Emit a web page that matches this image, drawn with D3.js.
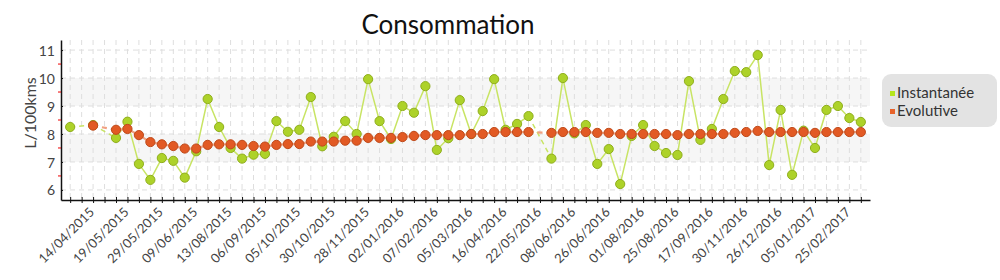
<!DOCTYPE html>
<html>
<head>
<meta charset="utf-8">
<script src="https://cdn.jsdelivr.net/npm/d3@7"></script>
<style>
  body { margin: 0; background: #fff; }
  svg text { font-family: Lato, "Open Sans", sans-serif; }
</style>
</head>
<body>
<div id="chart"></div>
<script>
// values, one per category (null = no reading)
const instantanee = [8.25, null, 8.32, null, 7.86, 8.44, 6.93, 6.36, 7.14, 7.04,
    6.44, 7.38, 9.25, 8.25, 7.5, 7.12, 7.26, 7.29, 8.46, 8.08,
    8.15, 9.32, 7.56, 7.9, 8.46, 8.0, 9.96, 8.46, 7.82, 9.0,
    8.76, 9.71, 7.43, 7.85, 9.21, 8.0, 8.82, 9.96, 8.15, 8.36,
    8.64, null, 7.12, 10.0, 8.02, 8.32, 6.93, 7.46, 6.21, 7.93,
    8.32, 7.57, 7.32, 7.25, 9.89, 7.79, 8.18, 9.25, 10.25, 10.21,
    10.82, 6.89, 8.86, 6.54, 8.12, 7.5, 8.86, 9.0, 8.57, 8.43];

const evolutive = [null, null, 8.30, null, 8.15, 8.18, 7.96, 7.71, 7.63, 7.57,
    7.48, 7.48, 7.61, 7.63, 7.63, 7.61, 7.57, 7.55, 7.61, 7.64,
    7.64, 7.73, 7.73, 7.73, 7.76, 7.76, 7.86, 7.86, 7.86, 7.89,
    7.93, 7.96, 7.96, 7.96, 7.96, 8.0, 8.0, 8.07, 8.07, 8.07,
    8.07, null, 8.04, 8.07, 8.07, 8.07, 8.04, 8.04, 8.0, 8.0,
    8.0, 8.0, 8.0, 7.96, 8.0, 8.0, 8.0, 8.0, 8.04, 8.07,
    8.11, 8.07, 8.07, 8.07, 8.07, 8.04, 8.07, 8.07, 8.07, 8.07];

// dates shown under every third category
const tickLabels = ["14/04/2015", "19/05/2015", "29/05/2015", "09/06/2015", "13/08/2015",
    "06/09/2015", "05/10/2015", "30/10/2015", "28/11/2015", "02/01/2016",
    "07/02/2016", "05/03/2016", "16/04/2016", "22/05/2016", "08/06/2016",
    "26/06/2016", "01/08/2016", "25/08/2016", "17/09/2016", "30/11/2016",
    "26/12/2016", "05/01/2017", "25/02/2017"];
const labelFirst = 2, labelStep = 3;

const yTicks = [6, 7, 8, 9, 10, 11];
const yMinor = [6.5, 7.5, 8.5, 9.5, 10.5];
const bands = [[7, 8], [9, 10]];

const seriesNames = ["Instantanée", "Evolutive"];

const width = 1000, height = 280;
const margin = {left: 61, right: 870, top: 40, bottom: 200};

const svg = d3.select("#chart").append("svg").attr("width", width).attr("height", height);

const cats = d3.range(instantanee.length);
const x = d3.scalePoint().domain(cats).range([margin.left, margin.right]).padding(0.8);
const y = d3.scaleLinear().domain([5.64, 11.36]).range([margin.bottom, margin.top]);

// bands
svg.selectAll(".band").data(bands).enter().append("rect")
    .attr("x", margin.left).attr("width", margin.right - margin.left)
    .attr("y", d => y(d[1])).attr("height", d => y(d[0]) - y(d[1]))
    .attr("fill", "#f6f6f6");

// grid
svg.append("g").selectAll("line").data(cats).enter().append("line")
    .attr("x1", d => x(d)).attr("x2", d => x(d)).attr("y1", margin.top).attr("y2", margin.bottom)
    .attr("stroke", "#dedede").attr("stroke-dasharray", "5,4");
svg.append("g").selectAll("line").data(yTicks).enter().append("line")
    .attr("x1", margin.left).attr("x2", margin.right).attr("y1", d => y(d)).attr("y2", d => y(d))
    .attr("stroke", "#dedede").attr("stroke-dasharray", "5,4");

// axes
const yAxis = svg.append("g").attr("transform", `translate(${margin.left},0)`)
    .call(d3.axisLeft(y).tickValues(yTicks).tickFormat(d3.format("d")).tickSize(3).tickSizeOuter(0));
yAxis.select(".domain").attr("stroke", "#111").attr("stroke-width", 1.5);
yAxis.selectAll(".tick line").attr("x2", 2).attr("stroke", "#111");
yAxis.selectAll("text").attr("x", -6).attr("dy", "0.36em").style("font-size", "14px").attr("fill", "#444");
svg.append("g").selectAll("line").data(yMinor).enter().append("line")
    .attr("x1", margin.left - 3).attr("x2", margin.left).attr("y1", d => y(d)).attr("y2", d => y(d))
    .attr("stroke", "#e00");

const xAxis = svg.append("g").attr("transform", `translate(0,${margin.bottom})`)
    .call(d3.axisBottom(x).tickSize(3).tickSizeOuter(0).tickFormat(""));
xAxis.select(".domain").attr("stroke", "#111").attr("stroke-width", 1.5);
xAxis.selectAll(".tick line").attr("y1", -3).attr("stroke", "#111");

svg.append("g").selectAll("text").data(tickLabels).enter().append("text")
    .attr("transform", (d, i) => `translate(${x(labelFirst + i * labelStep) + 2},${margin.bottom + 13}) rotate(-45)`)
    .attr("text-anchor", "end")
    .style("font-size", "13px").attr("fill", "#444")
    .text(d => d);

// titles
svg.append("text").attr("x", 448).attr("y", 34).attr("text-anchor", "middle")
    .style("font-size", "26px").attr("fill", "#111").text("Consommation");
svg.append("text").attr("transform", "translate(36,113) rotate(-90)").attr("text-anchor", "middle")
    .style("font-size", "16px").attr("fill", "#444").text("L/100kms");

// series
function drawSeries(values, lineColor, lineWidth, fill, stroke) {
    const pts = values.map((v, i) => ({i, v})).filter(d => d.v != null);
    const line = d3.line().x(d => x(d.i)).y(d => y(d.v));
    const g = svg.append("g");
    // solid runs
    g.append("path").datum(values.map((v, i) => ({i, v})))
        .attr("d", d3.line().defined(d => d.v != null).x(d => x(d.i)).y(d => y(d.v)))
        .attr("fill", "none").attr("stroke", lineColor).attr("stroke-width", lineWidth);
    // dashed links over missing readings
    for (let k = 1; k < pts.length; k++) {
        if (pts[k].i - pts[k - 1].i > 1) {
            g.append("path").attr("d", line([pts[k - 1], pts[k]]))
                .attr("fill", "none").attr("stroke", lineColor).attr("stroke-width", lineWidth)
                .attr("stroke-dasharray", "5,4");
        }
    }
    g.selectAll("circle").data(pts).enter().append("circle")
        .attr("cx", d => x(d.i)).attr("cy", d => y(d.v)).attr("r", 4.6)
        .attr("fill", fill).attr("stroke", stroke).attr("stroke-width", 1);
}
drawSeries(instantanee, "#c8e464", 1.5, "#add229", "#8fae1c");
drawSeries(evolutive, "#f0a282", 2.2, "#e25a24", "#bf4a1a");

// legend
const lg = svg.append("g");
lg.append("rect").attr("x", 882).attr("y", 74).attr("width", 115).attr("height", 53)
    .attr("rx", 9).attr("fill", "#e3e3e3");
const legendColors = ["#b5e61d", "#e8632a"];
seriesNames.forEach((name, i) => {
    lg.append("rect").attr("x", 890).attr("y", 91 + i * 18).attr("width", 5).attr("height", 5)
        .attr("fill", legendColors[i]);
    lg.append("text").attr("x", 897).attr("y", 98 + i * 18)
        .style("font-size", "15px").attr("fill", "#333").text(name);
});
</script>
</body>
</html>
